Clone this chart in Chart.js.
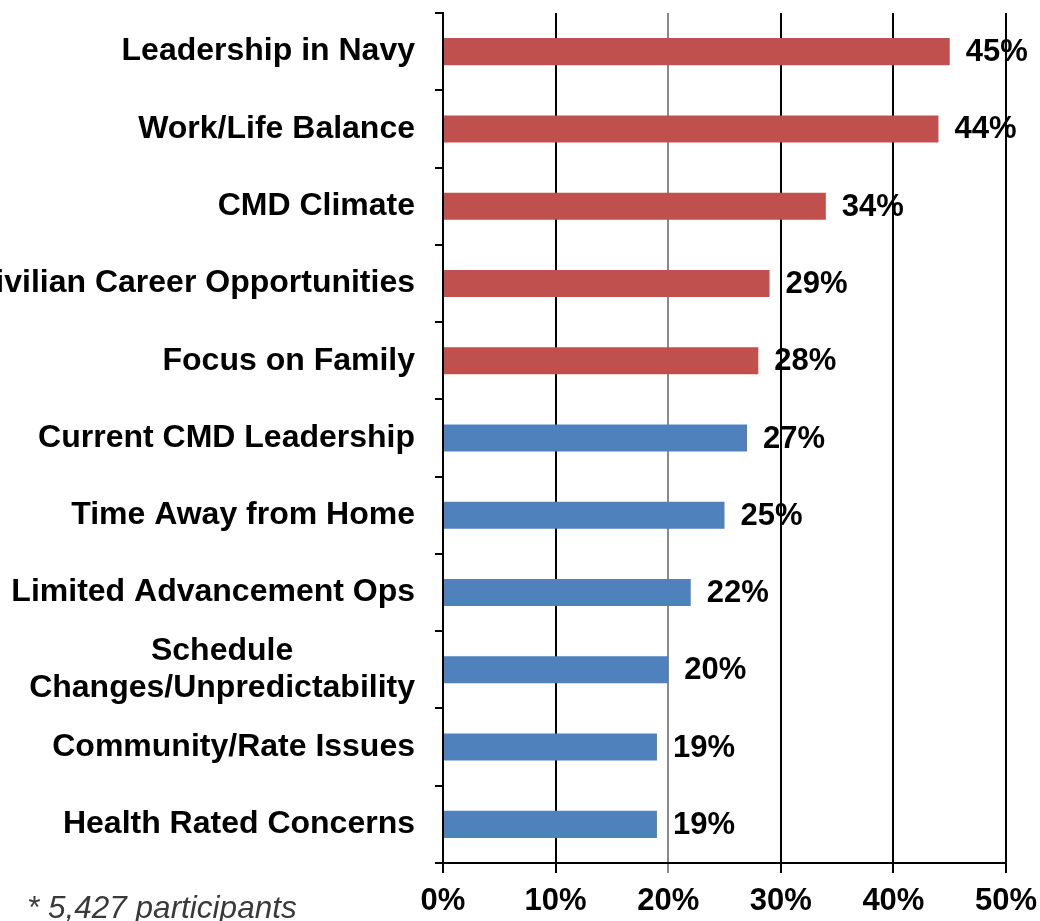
<!DOCTYPE html>
<html>
<head>
<meta charset="utf-8">
<script src="https://cdn.jsdelivr.net/npm/chart.js@4/dist/chart.umd.min.js"></script>
<style>
  html, body { margin: 0; padding: 0; background: #fff; }
  #wrap { position: relative; width: 1040px; height: 921px; overflow: hidden; }
</style>
</head>
<body>
<div id="wrap"><canvas id="chart" width="1040" height="921"></canvas></div>
<script>
  // Reasons, top to bottom
  var categories = [
    "Leadership in Navy",
    "Work/Life Balance",
    "CMD Climate",
    "Civilian Career Opportunities",
    "Focus on Family",
    "Current CMD Leadership",
    "Time Away from Home",
    "Limited Advancement Ops",
    ["Schedule", "Changes/Unpredictability"],
    "Community/Rate Issues",
    "Health Rated Concerns"
  ];
  var percents = [45, 44, 34, 29, 28, 27, 25, 22, 20, 19, 19];
  var xTicks = [0, 10, 20, 30, 40, 50];
  var footnote = "* 5,427 participants";

  var RED = "#C0504D";
  var BLUE = "#4F81BD";
  var FONT = '"Liberation Sans", Arial, sans-serif';

  var barColors = percents.map(function (v, i) {
    return i < 5 ? RED : BLUE;
  });

  // Category labels: block right-aligned, lines centred inside the block
  var categoryLabels = {
    id: "categoryLabels",
    afterDraw: function (chart) {
      var ctx = chart.ctx;
      var yScale = chart.scales.y;
      var right = yScale.right - 28;
      var lineH = 37;
      ctx.save();
      ctx.font = "bold 32px " + FONT;
      ctx.fillStyle = "#000";
      ctx.textAlign = "center";
      ctx.textBaseline = "middle";
      categories.forEach(function (label, i) {
        var lines = Array.isArray(label) ? label : [label];
        var w = 0;
        lines.forEach(function (l) {
          w = Math.max(w, ctx.measureText(l).width);
        });
        var cy = yScale.getPixelForValue(i);
        var y0 = cy - ((lines.length - 1) * lineH) / 2;
        lines.forEach(function (l, k) {
          ctx.fillText(l, right - w / 2, y0 + k * lineH);
        });
      });
      // footnote
      ctx.font = "italic 31.5px " + FONT;
      ctx.fillStyle = "#3a3a3a";
      ctx.textAlign = "left";
      ctx.textBaseline = "alphabetic";
      ctx.fillText(footnote, 27, 918);
      ctx.restore();
    }
  };

  // Value labels to the right of each bar
  var valueLabels = {
    id: "valueLabels",
    afterDatasetsDraw: function (chart) {
      var ctx = chart.ctx;
      var meta = chart.getDatasetMeta(0);
      ctx.save();
      ctx.font = "bold 31px " + FONT;
      ctx.fillStyle = "#000";
      ctx.textAlign = "left";
      ctx.textBaseline = "middle";
      meta.data.forEach(function (bar, i) {
        ctx.fillText(percents[i] + "%", bar.x + 16, bar.y + 1);
      });
      ctx.restore();
    }
  };

  new Chart(document.getElementById("chart"), {
    type: "bar",
    data: {
      labels: categories,
      datasets: [
        {
          data: percents,
          backgroundColor: barColors,
          borderWidth: 0,
          barPercentage: 0.35,
          categoryPercentage: 1
        }
      ]
    },
    options: {
      indexAxis: "y",
      responsive: false,
      animation: false,
      layout: { padding: { top: 13, right: 34, left: 0, bottom: 0 } },
      plugins: {
        legend: { display: false },
        tooltip: { enabled: false }
      },
      scales: {
        x: {
          min: 0,
          max: 50,
          afterBuildTicks: function (scale) {
            scale.ticks = xTicks.map(function (v) {
              return { value: v };
            });
          },
          afterFit: function (scale) {
            scale.height = 58;
            scale.paddingLeft = 0;
            scale.paddingRight = 0;
          },
          ticks: {
            color: "#000",
            padding: 10,
            maxRotation: 0,
            font: { family: FONT, size: 31, weight: "bold" },
            callback: function (v) {
              return v + "%";
            }
          },
          grid: {
            color: function (c) {
              return c.tick && c.tick.value === 20 ? "#8a8a8a" : "#000";
            },
            lineWidth: 2,
            tickLength: 10
          },
          border: { display: true, color: "#000", width: 2 }
        },
        y: {
          afterFit: function (scale) {
            scale.width = 443;
          },
          ticks: { display: false },
          grid: {
            drawOnChartArea: false,
            drawTicks: true,
            tickLength: 8,
            offset: true,
            color: "#000",
            lineWidth: 2
          },
          border: { display: true, color: "#000", width: 2 }
        }
      }
    },
    plugins: [valueLabels, categoryLabels]
  });
</script>
</body>
</html>
